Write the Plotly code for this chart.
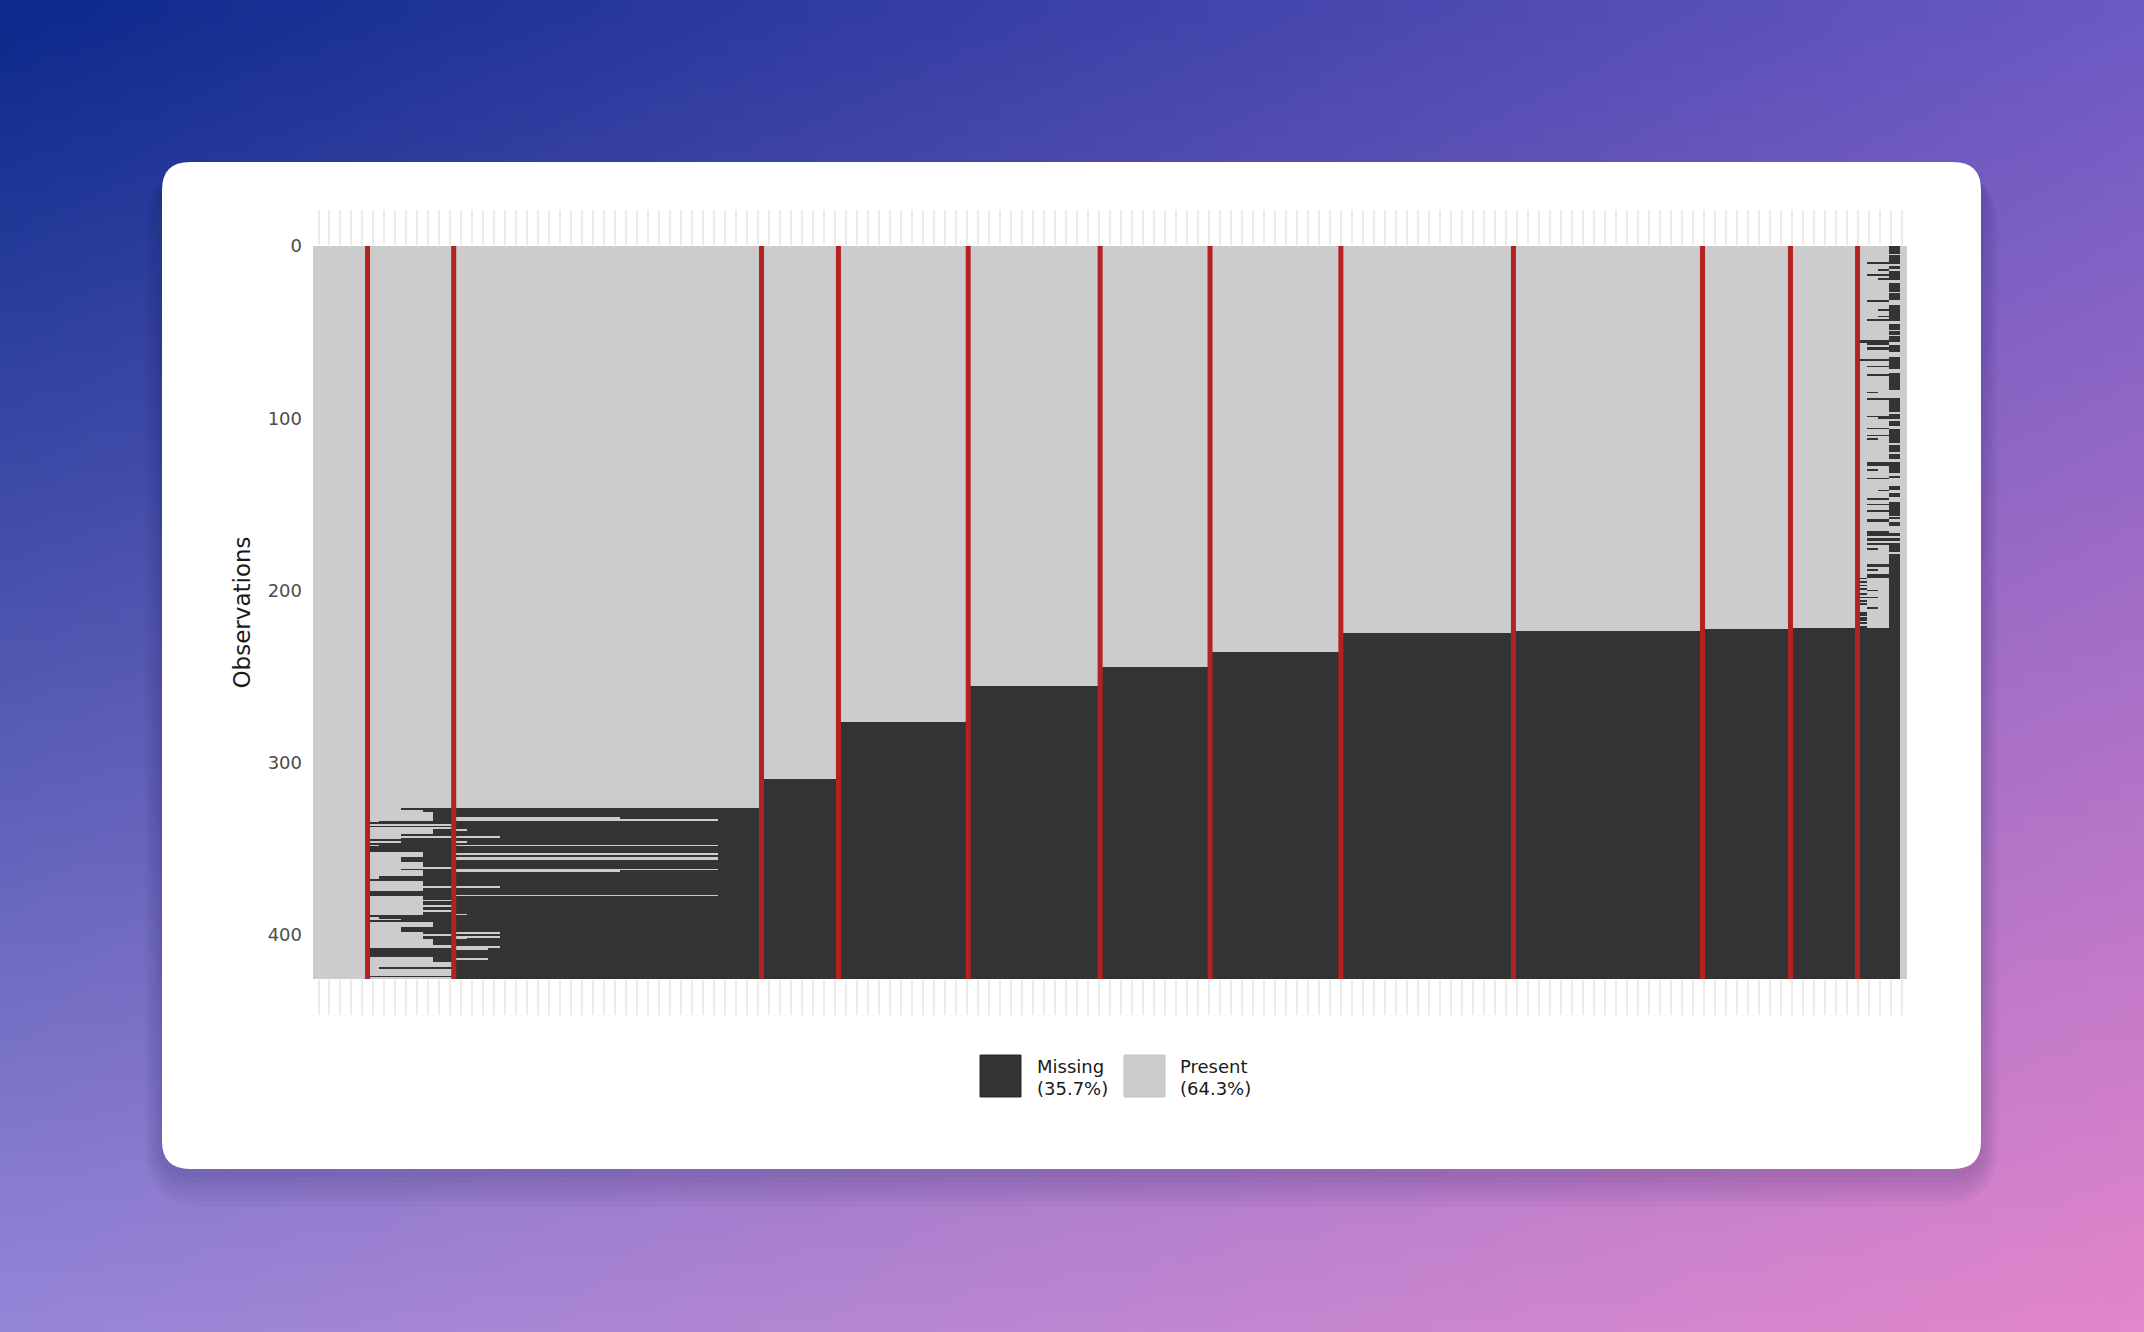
import base64
import struct
import zlib

import numpy as np
import plotly.graph_objects as go

# ---------------------------------------------------------------- data
n_rows = 425                      # observations
n_vars = 145                      # variables (columns)
y_tick_vals = [0, 100, 200, 300, 400]
y_tick_text = ["0", "100", "200", "300", "400"]
legend_labels = ["Missing", "(35.7%)", "Present", "(64.3%)"]

# blocks of variables (x in variable units) and first missing row of each block
block_edges = [0, 4.96, 12.8, 40.8, 47.8, 59.6, 71.6, 81.6, 93.5, 109.2,
               126.4, 134.4, 140.5, 141.4, 142.4, 143.4, 144.35, 145]
block_missing_from = [None, 327, 327, 310, 277, 256, 245, 236, 225, 224,
                      223, 222, 222, 222, 222, 184, None]
separator_x = [4.96, 12.8, 40.8, 47.8, 59.6, 71.6, 81.6, 93.5, 109.2,
               126.4, 134.4, 140.5]

# block 1 (x 4.96-12.8): present runs (row_from, row_to, present up to x)
block1_present = [
    (327, 328, 8.0), (328, 328, 10.0), (329, 331, 10.9), (332, 333, 10.9),
    (334, 334, 6.0), (336, 336, 12.8), (338, 338, 12.8), (339, 341, 10.9),
    (342, 344, 8.0), (343, 343, 12.8), (346, 346, 8.0), (348, 348, 6.0),
    (352, 354, 10.0), (355, 357, 8.0), (358, 360, 10.0), (361, 361, 12.8),
    (362, 362, 8.0), (363, 365, 10.0), (366, 367, 6.0), (369, 374, 10.0),
    (372, 372, 12.8), (378, 388, 10.0), (380, 380, 12.8), (383, 383, 12.8),
    (386, 386, 12.8), (390, 391, 6.0), (391, 391, 8.0), (393, 395, 10.9),
    (396, 398, 8.0), (399, 402, 10.0), (400, 400, 12.8), (403, 405, 10.9),
    (406, 407, 12.8), (413, 415, 10.9), (416, 418, 12.8), (419, 419, 6.0),
    (420, 423, 12.8), (425, 425, 12.8),
]
# block 2 (x 12.8-40.8): present runs (row_from, row_to, present up to x)
block2_present = [
    (332, 333, 27.9), (333, 333, 36.8), (339, 339, 14.0), (343, 343, 17.0),
    (346, 346, 14.0), (348, 348, 36.8), (353, 353, 36.8), (355, 356, 36.8),
    (362, 363, 27.9), (362, 362, 36.8), (372, 372, 17.0), (377, 377, 36.8),
    (388, 388, 14.0), (399, 399, 17.0), (401, 401, 17.0), (402, 402, 14.0),
    (407, 407, 17.0), (408, 408, 15.9), (414, 414, 15.9),
]
# last block (x 140.5-143.4): missing runs (row_from, row_to, x_from, x_to)
last_missing = [
    (10, 10, 141.4, 143.4), (14, 14, 142.4, 143.4), (17, 17, 141.4, 143.4),
    (19, 19, 142.4, 143.4), (32, 32, 141.4, 143.4), (37, 37, 142.4, 143.4),
    (41, 41, 142.4, 143.4), (43, 43, 141.4, 143.4), (55, 56, 140.5, 143.4),
    (57, 57, 141.4, 143.4), (59, 60, 141.4, 143.4), (66, 66, 140.5, 143.4),
    (70, 70, 141.4, 143.4), (75, 75, 141.4, 143.4), (85, 85, 141.4, 142.4),
    (89, 89, 141.4, 143.4), (99, 99, 141.4, 143.4), (100, 100, 142.4, 143.4),
    (106, 106, 141.4, 143.4), (110, 110, 141.4, 143.4), (112, 112, 141.4, 142.4),
    (126, 127, 141.4, 143.4), (130, 130, 141.4, 142.4), (135, 135, 141.4, 143.4),
    (142, 142, 142.4, 143.4), (147, 147, 141.4, 143.4), (150, 150, 141.4, 143.4),
    (154, 154, 141.4, 143.4), (159, 160, 141.4, 143.4), (166, 168, 141.4, 143.4),
    (170, 171, 141.4, 143.4), (173, 173, 141.4, 143.4), (176, 176, 141.4, 142.4),
    (185, 186, 141.4, 143.4), (188, 188, 141.4, 142.4), (191, 192, 141.4, 143.4),
    (193, 193, 140.5, 141.4), (195, 195, 140.5, 141.4), (197, 197, 140.5, 141.4),
    (199, 199, 140.5, 141.4), (200, 200, 141.4, 142.4), (202, 202, 140.5, 141.4),
    (204, 204, 140.5, 142.4), (206, 206, 140.5, 141.4), (208, 208, 140.5, 141.4),
    (210, 210, 141.4, 142.4), (213, 214, 140.5, 141.4), (216, 217, 140.5, 141.4),
    (219, 219, 140.5, 141.4), (221, 221, 140.5, 141.4),
]
# column x 143.4-144.35: missing runs above its solid part
stripe_col = (143.4, 144.35)
stripe_missing = [
    (1, 2), (3, 4), (6, 10), (12, 13), (15, 19), (22, 26), (28, 31), (35, 36),
    (37, 43), (46, 48), (50, 51), (53, 55), (58, 61), (65, 71), (74, 83),
    (89, 96), (98, 100), (102, 104), (107, 114), (116, 119), (121, 123),
    (126, 131), (134, 134), (140, 141), (144, 145), (149, 156), (158, 158),
    (161, 162), (167, 168), (170, 171), (173, 174), (175, 177), (179, 183),
]

# ---------------------------------------------------------------- matrix
x_edges = set(block_edges)
x_edges.update(r[2] for r in block1_present)
x_edges.update(r[2] for r in block2_present)
x_edges.update(r[2] for r in last_missing)
x_edges.update(r[3] for r in last_missing)
x_edges = sorted(x_edges)
centers = np.array([(a + b) / 2 for a, b in zip(x_edges[:-1], x_edges[1:])])
rows = np.arange(1, n_rows + 1)
z = np.zeros((n_rows, len(centers)))

for b, start in enumerate(block_missing_from):
    if start is None:
        continue
    cols = (centers > block_edges[b]) & (centers < block_edges[b + 1])
    z[np.ix_(rows >= start, cols)] = 1


def paint(r0, r1, x0, x1, val):
    cols = (centers > x0) & (centers < x1)
    rsel = (rows >= r0) & (rows <= r1)
    z[np.ix_(rsel, cols)] = val


for r0, r1, xt in block1_present:
    paint(r0, r1, block_edges[1], xt, 0)
for r0, r1, xt in block2_present:
    paint(r0, r1, block_edges[2], xt, 0)
for r0, r1, xf, xt in last_missing:
    paint(r0, r1, xf, xt, 1)
for r0, r1 in stripe_missing:
    paint(r0, r1, stripe_col[0], stripe_col[1], 1)

y_edges = [0] + [r + 0.5 for r in rows]

# ---------------------------------------------------------------- geometry
W, H = 2144, 1332
ML, MR, MT, MB = 313, 237, 246, 353
PW, PH = W - ML - MR, H - MT - MB


def px(x, y):
    return (x - ML) / PW, 1 - (y - MT) / PH


def rounded_path(x0, y0, x1, y1, r):
    def p(x, y):
        a, b = px(x, y)
        return f"{a:.5f},{b:.5f}"

    return (f"M {p(x0 + r, y0)} L {p(x1 - r, y0)} Q {p(x1, y0)} {p(x1, y0 + r)} "
            f"L {p(x1, y1 - r)} Q {p(x1, y1)} {p(x1 - r, y1)} "
            f"L {p(x0 + r, y1)} Q {p(x0, y1)} {p(x0, y1 - r)} "
            f"L {p(x0, y0 + r)} Q {p(x0, y0)} {p(x0 + r, y0)} Z")


# background gradient as a tiny png
def gradient_png():
    h, w = 84, 134
    tl = np.array([12, 42, 140.0]); tr = np.array([108, 90, 196.0])
    bl = np.array([150, 134, 216.0]); br = np.array([228, 134, 203.0])
    u = np.linspace(0, 1, w)[None, :, None]
    v = np.linspace(0, 1, h)[:, None, None]
    img = (tl * (1 - u) * (1 - v) + tr * u * (1 - v) + bl * (1 - u) * v + br * u * v)
    img = np.clip(img, 0, 255).astype(np.uint8)
    raw = b"".join(b"\x00" + img[i].tobytes() for i in range(h))

    def chunk(t, d):
        return struct.pack(">I", len(d)) + t + d + struct.pack(">I", zlib.crc32(t + d) & 0xFFFFFFFF)

    png = (b"\x89PNG\r\n\x1a\n" + chunk(b"IHDR", struct.pack(">IIBBBBB", w, h, 8, 2, 0, 0, 0))
           + chunk(b"IDAT", zlib.compress(raw, 9)) + chunk(b"IEND", b""))
    return "data:image/png;base64," + base64.b64encode(png).decode()


FONT = "DejaVu Sans"
fig = go.Figure()
fig.add_trace(go.Heatmap(
    z=z, x=x_edges, y=y_edges,
    colorscale=[[0, "#cccccc"], [1, "#333333"]], zmin=0, zmax=1,
    showscale=False, hoverinfo="skip",
))
fig.add_trace(go.Scatter(x=[None], y=[None], xaxis="x2", yaxis="y",
                         showlegend=False, hoverinfo="skip"))

shapes = []
# soft card shadow
for i in range(6):
    g = 4 + i * 6
    shapes.append(dict(type="path", xref="paper", yref="paper", layer="below",
                       path=rounded_path(162 - g * 0.5, 162 + 6, 1981 + g * 0.5, 1169 + g + 4, 28 + g),
                       fillcolor="rgba(40,25,80,0.035)", line=dict(width=0)))
shapes.append(dict(type="path", xref="paper", yref="paper", layer="below",
                   path=rounded_path(162, 162, 1981, 1169, 28),
                   fillcolor="#ffffff", line=dict(width=0)))
# separators
for sx in separator_x:
    shapes.append(dict(type="line", xref="x", yref="paper", x0=sx, x1=sx, y0=0, y1=1,
                       line=dict(color="#b22222", width=5), layer="above"))
# legend keys
kx0, ky0 = px(980, 1055)
kx1, ky1 = px(1021, 1097)
shapes.append(dict(type="rect", xref="paper", yref="paper", x0=kx0, x1=kx1, y0=ky1, y1=ky0,
                   fillcolor="#333333", line=dict(color="#2a2a2a", width=1)))
kx0, ky0 = px(1124, 1055)
kx1, ky1 = px(1165, 1097)
shapes.append(dict(type="rect", xref="paper", yref="paper", x0=kx0, x1=kx1, y0=ky1, y1=ky0,
                   fillcolor="#cccccc", line=dict(color="#c4c4c4", width=1)))

annotations = []
for (lx, ly), text in zip([(1035, 1066), (1035, 1088), (1178, 1066), (1178, 1088)], legend_labels):
    ax, ay = px(lx, ly)
    annotations.append(dict(x=ax, y=ay, xref="paper", yref="paper", text=text, showarrow=False,
                            xanchor="left", yanchor="middle",
                            font=dict(family=FONT, size=18, color="#1a1a1a")))

tickvals = [i + 0.5 for i in range(n_vars)]
xaxis_common = dict(range=[0, n_vars], tickvals=tickvals, ticktext=[""] * n_vars,
                    ticks="outside", ticklen=35, tickwidth=2, tickcolor="#ebebeb",
                    showgrid=False, zeroline=False, showline=False)

fig.update_layout(
    width=W, height=H,
    margin=dict(l=ML, r=MR, t=MT, b=MB),
    paper_bgcolor="#8a70c8", plot_bgcolor="#cccccc",
    showlegend=False,
    xaxis=dict(**xaxis_common),
    xaxis2=dict(**xaxis_common, overlaying="x", side="top", matches="x"),
    yaxis=dict(range=[n_rows + 0.5, 0], tickvals=y_tick_vals, ticktext=y_tick_text,
               showgrid=False, zeroline=False, showline=False, ticks="",
               ticklabelstandoff=10,
               tickfont=dict(family=FONT, size=18, color="#4d4d4d"),
               title=dict(text="Observations", standoff=10,
                          font=dict(family=FONT, size=23, color="#1a1a1a"))),
    shapes=shapes,
    annotations=annotations,
    images=[dict(source=gradient_png(), xref="paper", yref="paper",
                 x=-ML / PW, y=1 + MT / PH, sizex=W / PW, sizey=H / PH,
                 xanchor="left", yanchor="top", sizing="stretch", layer="below")],
)

fig.write_html("out.html", config={"displayModeBar": False},
               post_script="document.body.style.margin='0';document.body.style.overflow='hidden';")
